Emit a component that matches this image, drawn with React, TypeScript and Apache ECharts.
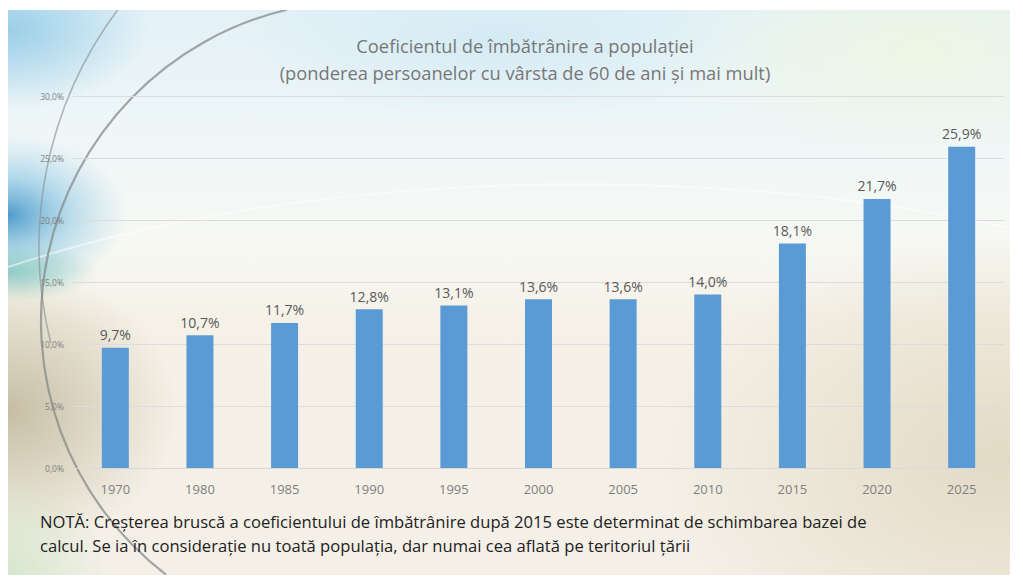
import React, { useEffect, useRef } from "react";
import * as echarts from "echarts";

const years = ["1970", "1980", "1985", "1990", "1995", "2000", "2005", "2010", "2015", "2020", "2025"];
const values = [9.7, 10.7, 11.7, 12.8, 13.1, 13.6, 13.6, 14.0, 18.1, 21.7, 25.9];
const titleLines = [
  "Coeficientul de îmbătrânire a populației",
  "(ponderea persoanelor cu vârsta de 60 de ani și mai mult)",
];
const noteLines = [
  "NOTĂ: Creșterea bruscă a coeficientului de îmbătrânire după 2015 este determinat de schimbarea bazei de",
  "calcul. Se ia în considerație nu toată populația, dar numai cea aflată pe teritoriul țării",
];

const FONT = "'Open Sans', 'Noto Sans', sans-serif";
const fmt = (v: number) => v.toFixed(1).replace(".", ",") + "%";
const deg = (d: number) => (d * Math.PI) / 180;

export default function App() {
  const ref = useRef<HTMLDivElement>(null);
  useEffect(() => {
    document.body.style.margin = "0";
    const chart = echarts.init(ref.current!, null, { renderer: "svg" });
    const LG = echarts.graphic.LinearGradient;
    const RG = echarts.graphic.RadialGradient;
    const glow = (cx: number, cy: number, rx: number, ry: number, stops: [number, string][]) => ({
      type: "ellipse", z: -19, silent: true,
      shape: { cx, cy, rx, ry },
      style: { fill: new RG(0.5, 0.5, 0.5, stops.map(([offset, color]) => ({ offset, color }))) },
    });
    const background: any[] = [
      {
        type: "rect", z: -20, silent: true,
        shape: { x: 8, y: 10, width: 1002, height: 565 },
        style: {
          fill: new LG(0, 0, 0, 1, [
            { offset: 0, color: "#e3f1f7" },
            { offset: 0.2, color: "#eef6f8" },
            { offset: 0.42, color: "#f7f8f3" },
            { offset: 0.55, color: "#f5f1e7" },
            { offset: 1, color: "#f4f0e7" },
          ]),
        },
      },
      glow(500, 40, 260, 80, [[0, "rgba(205,232,243,0.7)"], [1, "rgba(205,232,243,0)"]]),
      glow(920, 50, 260, 110, [[0, "rgba(238,246,226,0.95)"], [1, "rgba(238,246,226,0)"]]),
      glow(1010, 460, 360, 230, [[0, "rgba(222,212,188,0.8)"], [1, "rgba(222,212,188,0)"]]),
      glow(8, 30, 140, 80, [[0, "rgba(140,200,230,0.85)"], [1, "rgba(140,200,230,0)"]]),
      glow(8, 215, 120, 80, [[0, "rgba(70,150,200,0.95)"], [0.5, "rgba(120,190,225,0.5)"], [1, "rgba(150,205,232,0)"]]),
      glow(8, 272, 90, 30, [[0, "rgba(125,198,188,0.8)"], [1, "rgba(125,198,188,0)"]]),
      glow(8, 410, 170, 140, [[0, "rgba(196,187,160,0.95)"], [1, "rgba(196,187,160,0)"]]),
      glow(8, 575, 100, 100, [[0, "rgba(212,230,205,0.95)"], [1, "rgba(212,230,205,0)"]]),
      {
        type: "bezierCurve", z: -18, silent: true,
        shape: { x1: 8, y1: 267, x2: 1010, y2: 228, cpx1: 300, cpy1: 170, cpx2: 700, cpy2: 160 },
        style: { stroke: "rgba(255,255,255,0.5)", lineWidth: 2, fill: null },
      },
      {
        type: "arc", z: -17, silent: true,
        shape: { cx: 436, cy: 247, r: 397, startAngle: deg(166), endAngle: deg(216.7), clockwise: true },
        style: { stroke: "rgba(140,148,150,0.65)", lineWidth: 1.6, fill: null },
      },
      {
        type: "arc", z: -17, silent: true,
        shape: { cx: 361, cy: 321, r: 320, startAngle: deg(127.5), endAngle: deg(256.6), clockwise: true },
        style: { stroke: "rgba(130,135,135,0.72)", lineWidth: 2.2, fill: null },
      },
      // white page margins around the picture
      { type: "rect", z: -16, silent: true, shape: { x: 0, y: 0, width: 1023, height: 10 }, style: { fill: "#ffffff" } },
      { type: "rect", z: -16, silent: true, shape: { x: 0, y: 575, width: 1023, height: 7 }, style: { fill: "#ffffff" } },
      { type: "rect", z: -16, silent: true, shape: { x: 0, y: 0, width: 8, height: 582 }, style: { fill: "#ffffff" } },
      { type: "rect", z: -16, silent: true, shape: { x: 1010, y: 0, width: 13, height: 582 }, style: { fill: "#ffffff" } },
    ];
    const texts: any[] = [
      ...titleLines.map((t, i) => ({
        type: "text", x: 525, y: 45 + i * 27, silent: true,
        style: { text: t, fill: "#777777", font: `18.3px ${FONT}`, align: "center", verticalAlign: "middle" },
      })),
      ...noteLines.map((t, i) => ({
        type: "text", x: 40, y: 521 + i * 24, silent: true,
        style: { text: t, fill: "#222222", font: `16.6px ${FONT}`, align: "left", verticalAlign: "middle" },
      })),
    ];
    chart.setOption({
      animation: false,
      graphic: [...background, ...texts],
      grid: { left: 73, right: 19, top: 96, bottom: 114, containLabel: false },
      xAxis: {
        type: "category",
        data: years,
        axisLine: { show: true, lineStyle: { color: "#d9d9d9", width: 1 } },
        axisTick: { show: false },
        axisLabel: { color: "#7f7f7f", fontSize: 13, fontFamily: FONT, margin: 14 },
      },
      yAxis: {
        type: "value",
        min: 0,
        max: 30,
        interval: 5,
        axisLine: { show: false },
        axisTick: { show: false },
        splitLine: { lineStyle: { color: "#dcdcdc", width: 1 } },
        axisLabel: { color: "#808080", fontSize: 8.5, fontFamily: FONT, margin: 9, formatter: (v: number) => fmt(v) },
      },
      series: [
        {
          type: "bar",
          data: values,
          barWidth: 27,
          itemStyle: { color: "#5b9bd5" },
          label: {
            show: true,
            position: "top",
            distance: 6,
            color: "#595959",
            fontSize: 14,
            fontFamily: FONT,
            formatter: (p: any) => fmt(p.value),
          },
        },
      ],
    });
    return () => chart.dispose();
  }, []);
  return <div ref={ref} style={{ width: 1023, height: 582 }} />;
}
